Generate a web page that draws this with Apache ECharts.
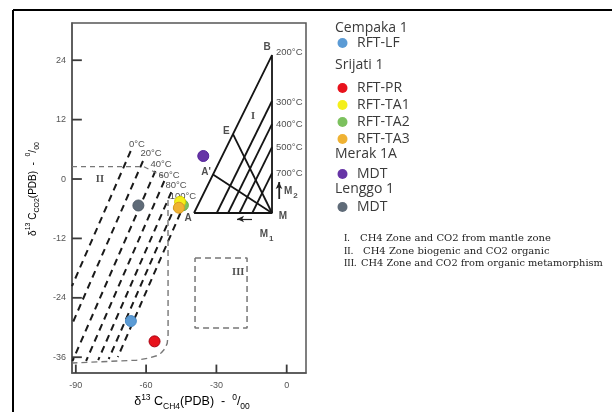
<!DOCTYPE html>
<html><head><meta charset="utf-8">
<script src="https://cdn.jsdelivr.net/npm/echarts@6/dist/echarts.min.js"></script>
<style>html,body{margin:0;padding:0;background:#fff}#c{width:612px;height:412px}</style>
</head><body><div id="c"></div>
<script>
// ---------- data ----------
const xTicks = [-90, -60, -30, 0];
const yTicks = [-36, -24, -12, 0, 12, 24];
const xRange = [-91.63, 8.24];
const yRange = [-39.19, 31.52];

// samples
const cempakaRFTLF = [[-66.5, -28.7]];
const srijatiRFTPR = [[-56.4, -32.8]];
const srijatiRFTTA1 = [[-45.5, -4.6]];
const srijatiRFTTA2 = [[-44.3, -5.3]];
const srijatiRFTTA3 = [[-46.0, -5.8]];
const merakMDT = [[-35.6, 4.65]];
const lenggoMDT = [[-63.3, -5.35]];

// zone I (mantle) diagram
const triangleABM = [[-39.56, -6.87], [-6.27, 25.05], [-6.27, -6.87], [-39.56, -6.87]];
const solidIsotherms = [
  [[-29.84, -6.87], [-6.27, 15.76]],
  [[-25.0, -6.87], [-6.27, 11.11]],
  [[-20.16, -6.87], [-6.27, 6.46]],
  [[-14.69, -6.87], [-6.27, 1.21]]
];
const mixingLines = [
  [[-22.92, 9.09], [-6.27, -6.87]],
  [[-31.46, 0.90], [-6.27, -6.87]]
];
const solidIsothermLabels = [[-4.57, 25.66, '200°C'], [-4.57, 15.56, '300°C'], [-4.57, 11.11, '400°C'], [-4.57, 6.46, '500°C'], [-4.57, 1.21, '700°C']];
const pointLabels = [[-8.4, 26.7, 'B'], [-25.8, 9.7, 'E'], [-34.4, 1.41, "A'"], [-42.1, -7.9, 'A'], [-1.6, -7.5, 'M']];
const subLabels = [[-8.6, -11.5, '1'], [1.8, -2.8, '2']];
const arrowM2 = [[-3.29, -4.04], [-3.29, -0.6]];
const arrowM1 = [[-14.8, -8.08], [-21.2, -8.08]];

// zone II (biogenic) diagram
const dashedIsotherms = [
  [[-66.58, 5.66], [-91.63, -21.62]],
  [[-61.33, 3.64], [-91.63, -29.37]],
  [[-56.04, 1.62], [-91.42, -36.77]],
  [[-52.24, -0.40], [-85.62, -36.77]],
  [[-49.25, -2.63], [-80.45, -36.57]],
  [[-47.03, -4.85], [-75.97, -36.36]],
  [[-45.37, -6.87], [-72.09, -35.96]]
];
const dashedIsothermLabels = [[-63.9, 7.07, '0°C'], [-57.9, 5.25, '20°C'], [-53.6, 3.03, '40°C'], [-50.2, 0.81, '60°C'], [-47.2, -1.21, '80°C'], [-44.3, -3.43, '100°C']];
const zoneIITop = [[-91.63, 2.5], [-61.0, 2.5], [-53.0, 0.6]];
const zoneIIBoundary = [[-50.66, -4.24], [-50.62, -31.5], [-51.0, -33.2], [-52.0, -34.3], [-53.5, -35.1], [-55.5, -35.7], [-59.0, -36.2], [-64.0, -36.6], [-91.4, -37.17]];

// zone III box
const zoneIIIBox = [[-39.12, -15.96], [-16.92, -15.96], [-16.92, -30.1], [-39.12, -30.1], [-39.12, -15.96]];

const zoneLabels = [[-14.4, 12.7, 'I'], [-79.7, 0.0, 'II'], [-20.7, -18.8, 'III']];

// legend / notes text
const legendTitles = [['Cempaka 1', 28], ['Srijati 1', 65], ['Merak 1A', 154], ['Lenggo 1', 189]];
const legendItems = [['RFT-LF', '#5b9bd5', 43], ['RFT-PR', '#e8121c', 88], ['RFT-TA1', '#f4ef1a', 105], ['RFT-TA2', '#7cc15e', 122], ['RFT-TA3', '#efb233', 139], ['MDT', '#6634a6', 174], ['MDT', '#5f6b78', 207]];
const notes = [['I.', 'CH4 Zone and CO2 from mantle zone'], ['II.', 'CH4 Zone biogenic and CO2 organic'], ['III.', 'CH4 Zone and CO2 from organic metamorphism']];

// ---------- chart ----------
const chart = echarts.init(document.getElementById('c'), null, { renderer: 'canvas' });

function lineS(data, color, width, type, z) {
  return { type: 'line', data: data, symbol: 'none', silent: true, animation: false, z: z || 2, clip: false,
    lineStyle: { color: color, width: width, type: type || 'solid' } };
}
function labelS(data, label, z) {
  return { type: 'scatter', data: data, symbolSize: 0, silent: true, animation: false, z: z || 3,
    label: Object.assign({ show: true, formatter: p => p.data[2] }, label) };
}
function pointS(name, data, color, border) {
  return { type: 'scatter', name: name, data: data, symbolSize: 11, animation: false, z: 10,
    itemStyle: { color: color, borderColor: border, borderWidth: 1, opacity: 1 } };
}

const series = [];
series.push(lineS(triangleABM, '#151515', 1.8));
solidIsotherms.forEach(l => series.push(lineS(l, '#151515', 1.8)));
mixingLines.forEach(l => series.push(lineS(l, '#151515', 1.8)));
dashedIsotherms.forEach(l => series.push(lineS(l, '#1a1a1a', 2, [7, 5])));
series.push(lineS(zoneIITop, '#777', 1.2, [5, 4]));
series.push(lineS(zoneIIBoundary, '#777', 1.4, [6, 4]));
series.push(lineS(zoneIIIBox, '#777', 1.5, [6, 4]));

// inward axis ticks, built from the tick arrays and drawn through the axes' scales
const xTickLen = 1.7, yTickLen = 4.2;
xTicks.forEach(v => series.push(lineS([[v, yRange[0]], [v, yRange[0] + xTickLen]], '#3a3a3a', 1.8, 'solid', 5)));
yTicks.forEach(v => series.push(lineS([[xRange[0], v], [xRange[0] + yTickLen, v]], '#3a3a3a', 1.8, 'solid', 5)));

series.push({ type: 'line', data: arrowM2, symbol: 'none', silent: true, animation: false,
  lineStyle: { color: '#222', width: 1.2 },
  markLine: { silent: true, symbol: ['none', 'arrow'], symbolSize: [5, 7], label: { show: false }, animation: false,
    lineStyle: { color: '#222', width: 1.2, type: 'solid' },
    data: [[{ coord: arrowM2[0] }, { coord: arrowM2[1] }], [{ coord: arrowM1[0] }, { coord: arrowM1[1] }]] } });

series.push(labelS(solidIsothermLabels, { position: 'right', distance: 0, fontSize: 9.5, fontFamily: 'Liberation Sans', color: '#222' }));
series.push(labelS(pointLabels, { position: 'inside', fontSize: 10, fontWeight: 'bold', fontFamily: 'Liberation Sans', color: '#222' }));
series.push(labelS(subLabels, { position: 'inside', formatter: p => '{m|M}{s|' + p.data[2] + '}',
  rich: { m: { fontSize: 10, fontWeight: 'bold', fontFamily: 'Liberation Sans', color: '#222', verticalAlign: 'top' },
          s: { fontSize: 8, fontWeight: 'bold', fontFamily: 'Liberation Sans', color: '#222', verticalAlign: 'bottom', padding: [6, 0, 0, 1] } } }));
series.push(labelS(dashedIsothermLabels, { position: 'inside', fontSize: 9.5, fontFamily: 'Liberation Sans', color: '#222' }));
series.push(labelS(zoneLabels, { position: 'inside', fontSize: 10.5, fontWeight: 'bold', fontFamily: 'Liberation Serif', color: '#222' }));

series.push(pointS('RFT-LF', cempakaRFTLF, '#5b9bd5', '#4a8ac4'));
series.push(pointS('RFT-PR', srijatiRFTPR, '#e8121c', '#a80010'));
series.push(pointS('RFT-TA2', srijatiRFTTA2, '#7cc15e', '#6aae4c'));
series.push(pointS('RFT-TA1', srijatiRFTTA1, '#f4ef1a', '#d8d000'));
series.push(pointS('RFT-TA3', srijatiRFTTA3, '#efb233', '#d99a20'));
series.push(pointS('MDT (Merak 1A)', merakMDT, '#6634a6', '#55249a'));
series.push(pointS('MDT (Lenggo 1)', lenggoMDT, '#5f6b78', '#505c68'));

function nameRich(fs, ss) {
  return {
    n: { fontSize: fs, fontFamily: 'Liberation Sans', color: '#444', lineHeight: fs + 6 },
    sup: { fontSize: ss, fontFamily: 'Liberation Sans', color: '#444', verticalAlign: 'top', lineHeight: fs + 6 },
    sub: { fontSize: ss, fontFamily: 'Liberation Sans', color: '#444', verticalAlign: 'bottom', lineHeight: fs + 6 }
  };
}

// graphic: outer frame, axis titles, legend, notes
const graphic = [
  { type: 'line', shape: { x1: 13, y1: 10, x2: 13, y2: 412 }, style: { stroke: '#000', lineWidth: 2 } },
  { type: 'line', shape: { x1: 13, y1: 10, x2: 612, y2: 10 }, style: { stroke: '#000', lineWidth: 2 } },
  { type: 'text', x: 33, y: 189, rotation: Math.PI / 2,
    style: { text: '{n|δ}{sup|13}{n| C}{sub|CO2}{n|(PDB)  -  }{sup|0}{n|/}{sub|00}', rich: nameRich(10, 7), textAlign: 'center', textVerticalAlign: 'middle' } },
  { type: 'text', x: 192, y: 402,
    style: { text: '{n|δ}{sup|13}{n| C}{sub|CH4}{n|(PDB)  -  }{sup|0}{n|/}{sub|00}', rich: nameRich(12.5, 8.5), textAlign: 'center', textVerticalAlign: 'middle' } }
];
legendTitles.forEach(t => {
  graphic.push({ type: 'text', x: 335, y: t[1], style: { text: t[0], font: '14px "Open Sans"', fill: '#3a3a3a', textVerticalAlign: 'middle' } });
});
legendItems.forEach(it => {
  graphic.push({ type: 'circle', shape: { cx: 342.5, cy: it[2], r: 5 }, style: { fill: it[1] } });
  graphic.push({ type: 'text', x: 357, y: it[2], style: { text: it[0], font: '14px "Open Sans"', fill: '#3a3a3a', textVerticalAlign: 'middle' } });
});
const noteY = [238, 251, 263];
const noteX = [360, 363, 361];
notes.forEach((n, i) => {
  graphic.push({ type: 'text', x: 344, y: noteY[i], style: { text: n[0], font: '10px "Liberation Serif"', fill: '#222', textVerticalAlign: 'middle' } });
  graphic.push({ type: 'text', x: noteX[i], y: noteY[i], style: { text: n[1], font: (i === 2 ? '9.8px' : '10px') + ' "DejaVu Serif"', fill: '#222', textVerticalAlign: 'middle' } });
});

chart.setOption({
  animation: false,
  backgroundColor: '#fff',
  grid: { left: 72, top: 23, width: 234, height: 350, show: true, borderColor: '#555', borderWidth: 1.5,
    backgroundColor: 'transparent', outerBoundsMode: 'none', containLabel: false },
  xAxis: {
    type: 'value', min: xRange[0], max: xRange[1],
    axisLine: { show: true, onZero: false, lineStyle: { color: '#555', width: 1.5 } },
    splitLine: { show: false },
    axisTick: { show: false },
    axisLabel: { customValues: xTicks, margin: 8, fontSize: 9, fontFamily: 'Liberation Sans', color: '#555' }
  },
  yAxis: {
    type: 'value', min: yRange[0], max: yRange[1],
    axisLine: { show: true, onZero: false, lineStyle: { color: '#555', width: 1.5 } },
    splitLine: { show: false },
    axisTick: { show: false },
    axisLabel: { customValues: yTicks, margin: 6, fontSize: 9, fontFamily: 'Liberation Sans', color: '#555' }
  },
  series: series,
  graphic: graphic
});
</script>
</body></html>
